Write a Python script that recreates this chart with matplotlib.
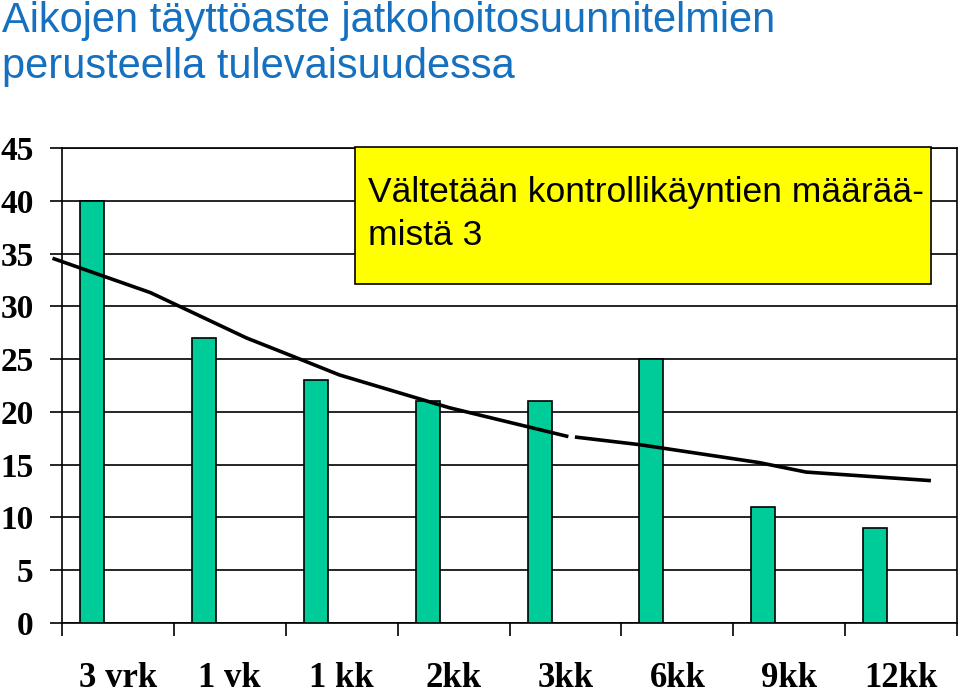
import numpy as np
from matplotlib import pyplot as plt
from matplotlib.patches import Rectangle

# data
categories = ['3 vrk', '1 vk', '1 kk', '2kk', '3kk', '6kk', '9kk', '12kk']
values = [40, 27, 23, 21, 21, 25, 11, 9]
# hand drawn trend curve, two pieces (x in category units, y in values)
trend_x1 = [-0.57, 0.29, 1.15, 1.65, 1.98, 2.96, 4.01]
trend_y1 = [34.5, 31.3, 27.0, 24.9, 23.5, 20.4, 17.7]
trend_x2 = [4.10, 4.66, 5.73, 6.15, 7.25]
trend_y2 = [17.6, 16.9, 15.2, 14.3, 13.5]

title = 'Aikojen täyttöaste jatkohoitosuunnitelmien\nperusteella tulevaisuudessa'
note = 'Vältetään kontrollikäyntien määrää-\nmistä 3'

fig = plt.figure(figsize=(9.59, 6.93), dpi=100)
ax = fig.add_axes([0.0647, 0.101, 0.9333, 0.6854])

x = np.arange(len(categories))
ax.bar(x - 0.232, values, width=0.214, color='#00CC99', edgecolor='black',
       linewidth=1.2, zorder=3)

ax.plot(trend_x1, trend_y1, color='black', lw=2.6, zorder=4, clip_on=False)
ax.plot(trend_x2, trend_y2, color='black', lw=2.6, zorder=4, clip_on=False)

ax.set_xlim(-0.5, len(categories) - 0.5)
ax.set_ylim(0, 45)
ax.set_yticks(np.arange(0, 46, 5))
ax.yaxis.grid(True, color='black', lw=1.2)
ax.set_axisbelow(True)

ax.set_xticks(x)
ax.set_xticklabels(categories, family='Liberation Serif', weight='bold', fontsize=25)
ax.set_xticks(np.arange(-0.5, len(categories)), minor=True)
ax.tick_params(axis='x', which='major', length=0, pad=28)
ax.tick_params(axis='x', which='minor', length=9, width=1.2, direction='out')
ax.tick_params(axis='y', length=9, width=1.2, pad=11.5, labelsize=24)
for lab in ax.get_yticklabels():
    lab.set_family('Liberation Serif')
    lab.set_weight('bold')
for s in ax.spines.values():
    s.set_linewidth(1.2)

# yellow note box
fig.patches.append(Rectangle((0.370, 0.590), 0.601, 0.198, transform=fig.transFigure,
                             facecolor='#FFFF00', edgecolor='black', lw=1.2, zorder=5))
fig.text(0.384, 0.6465, note, family='Liberation Sans', fontsize=25.5, va='baseline',
         linespacing=1.4, zorder=6)

fig.text(0.002, 0.8874, title, family='Liberation Sans', fontsize=30, color='#1570C0',
         va='baseline', linespacing=1.2)

plt.savefig('out.png')
